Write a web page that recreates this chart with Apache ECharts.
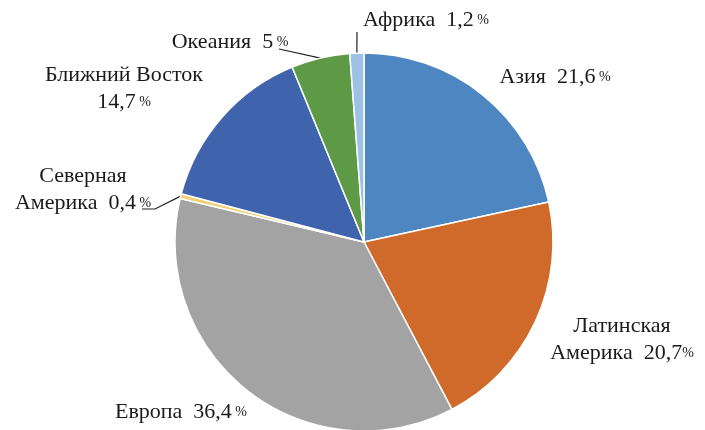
<!DOCTYPE html>
<html>
<head>
<meta charset="utf-8">
<script src="https://cdn.jsdelivr.net/npm/echarts@6/dist/echarts.min.js"></script>
<style>
  html, body { margin: 0; padding: 0; background: #fff; }
  #chart { width: 705px; height: 430px; }
</style>
</head>
<body>
<div id="chart"></div>
<script>
// доли регионов, по часовой стрелке от верха
const names = ["Азия", "Латинская\nАмерика", "Европа", "Северная\nАмерика", "Ближний Восток", "Океания", "Африка"];
const values = [21.6, 20.7, 36.4, 0.4, 14.7, 5, 1.2];
const valueText = ["21,6", "20,7", "36,4", "0,4", "14,7", "5", "1,2"];
const colors = ["#4e86c2", "#d06a2a", "#a3a3a3", "#f0d070", "#3f63ad", "#5e9a45", "#9dc0e5"];
const withLine = [false, false, false, true, false, true, true];

// где стоят подписи (центр текста) и куда ведёт выноска
const labelPos = [
  [555, 77], [622, 340], [181, 412], [83, 190], [124, 89], [230, 42], [426, 20]
];
const lineEnd = [null, null, null, [[155, 209], [142, 209]], null, [[279, 49]], [[357, 32]]];

const serif = "Liberation Serif";

const myChart = echarts.init(document.getElementById("chart"));

function labelText(i) {
  const parts = names[i].split("\n");
  const last = parts.pop();
  let s = parts.map(p => "{t|" + p + "}").join("\n");
  if (s) s += "\n";
  if (i == 4) {
    // Ближний Восток: число на второй строке
    return "{t|" + last + "}\n{t|" + valueText[i] + "}{p| %}";
  }
  return s + "{t|" + last + "  " + valueText[i] + "}{p|" + (i == 1 ? "%" : " %") + "}";
}

const data = values.map((v, i) => ({
  value: v,
  name: names[i],
  itemStyle: { color: colors[i] },
  labelLine: { show: withLine[i] }
}));

myChart.setOption({
  animation: false,
  series: [
    {
      type: "pie",
      center: [364, 242],
      radius: [0, 189],
      startAngle: 90,
      clockwise: true,
      avoidLabelOverlap: false,
      data: data,
      itemStyle: { borderColor: "#fff", borderWidth: 1.5 },
      label: {
        show: true,
        position: "outside",
        fontFamily: serif,
        formatter: p => labelText(p.dataIndex),
        rich: {
          t: { fontFamily: serif, fontSize: 22, color: "#1a1a1a", lineHeight: 27 },
          p: { fontFamily: serif, fontSize: 14, color: "#1a1a1a", lineHeight: 27 }
        }
      },
      labelLine: {
        show: true,
        length: 10,
        length2: 10,
        lineStyle: { color: "#222", width: 1.2 }
      },
      labelLayout: function (params) {
        const i = params.dataIndex;
        const out = {
          x: labelPos[i][0],
          y: labelPos[i][1],
          align: "center",
          verticalAlign: "middle"
        };
        if (lineEnd[i] && params.labelLinePoints) {
          out.labelLinePoints = [params.labelLinePoints[0]].concat(lineEnd[i]);
        }
        return out;
      }
    }
  ]
});
</script>
</body>
</html>
